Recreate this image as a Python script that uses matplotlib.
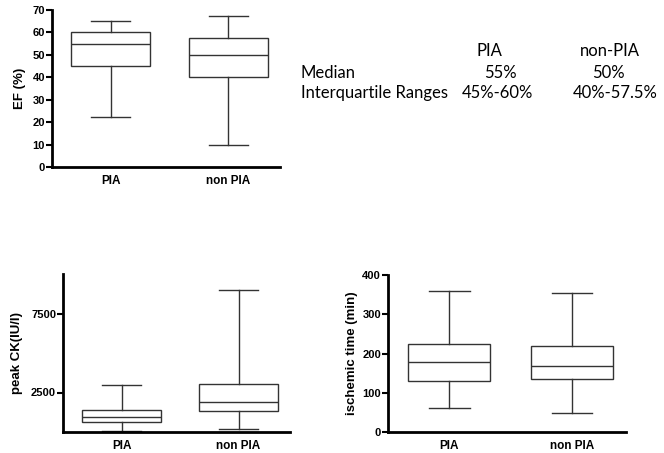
import matplotlib
matplotlib.use("Agg")
import matplotlib.pyplot as plt

groups = ["PIA", "non PIA"]

# EF (%) box stats: low whisker, Q1, median, Q3, high whisker
ef_low = [22.5, 10]
ef_q1 = [45, 40]
ef_med = [55, 50]
ef_q3 = [60, 57.5]
ef_high = [65, 67.5]

# peak CK (IU/l)
ck_low = [50, 165]
ck_q1 = [610, 1310]
ck_med = [930, 1900]
ck_q3 = [1415, 3055]
ck_high = [2970, 8970]

# ischemic time (min)
it_low = [62, 48]
it_q1 = [130, 134]
it_med = [179, 168]
it_q3 = [223, 219]
it_high = [360, 355]

table_cols = ["PIA", "non-PIA"]
table_rows = ["Median", "Interquartile Ranges"]
table_vals = [["55%", "50%"], ["45%-60%", "40%-57.5%"]]

W, H = 664, 453
fig = plt.figure(figsize=(W / 100, H / 100), dpi=100)
fig.patch.set_facecolor("white")

line_col = "#333333"
tick_font = dict(family="Liberation Sans", weight="bold", size=8)
xtick_font = dict(family="Liberation Sans", weight="bold", size=8.5)


def make_stats(low, q1, med, q3, high):
    out = []
    for i in range(len(groups)):
        out.append(dict(whislo=low[i], q1=q1[i], med=med[i], q3=q3[i],
                        whishi=high[i], fliers=[], label=groups[i]))
    return out


def draw_panel(rect, stats, ylim, yticks, ylabel, labelpad):
    ax = fig.add_axes(rect)
    ax.bxp(stats, positions=[1, 2], widths=0.67, showfliers=False,
           patch_artist=True,
           boxprops=dict(facecolor="white", edgecolor=line_col, linewidth=1.0),
           medianprops=dict(color=line_col, linewidth=1.0),
           whiskerprops=dict(color=line_col, linewidth=1.0),
           capprops=dict(color=line_col, linewidth=1.0),
           capwidths=0.33)
    ax.set_xlim(0.5, 2.44)
    ax.set_ylim(*ylim)
    ax.set_yticks(yticks)
    ax.spines["top"].set_visible(False)
    ax.spines["right"].set_visible(False)
    for s in ("left", "bottom"):
        ax.spines[s].set_linewidth(2.0)
        ax.spines[s].set_color("black")
    ax.tick_params(axis="y", direction="out", length=4, width=1.5, pad=1)
    ax.tick_params(axis="x", length=0, pad=6)
    for lab in ax.get_yticklabels():
        lab.set_fontproperties(tick_font)
    for lab in ax.get_xticklabels():
        lab.set_fontproperties(xtick_font)
    ax.set_ylabel(ylabel, fontdict=dict(family="Liberation Sans",
                                         weight="bold", size=9.5),
                  labelpad=labelpad)
    return ax


draw_panel([52 / W, 1 - 167 / H, 228 / W, 157 / H],
           make_stats(ef_low, ef_q1, ef_med, ef_q3, ef_high),
           (0, 70), range(0, 71, 10), "EF (%)", 5)

draw_panel([63 / W, 1 - 432 / H, 227 / W, 158 / H],
           make_stats(ck_low, ck_q1, ck_med, ck_q3, ck_high),
           (0, 10000), [2500, 7500], "peak CK(IU/l)", 6)

draw_panel([388 / W, 1 - 432 / H, 238 / W, 157 / H],
           make_stats(it_low, it_q1, it_med, it_q3, it_high),
           (0, 400), range(0, 401, 100), "ischemic time (min)", 3)

# summary table as text
tfont = dict(family="Lato", size=12, color="black")
col_x = [489 / W, 610 / W]
fig.text(col_x[0], 1 - 51 / H, table_cols[0], ha="center", va="center", **tfont)
fig.text(col_x[1], 1 - 51 / H, table_cols[1], ha="center", va="center", **tfont)
row_y = [1 - 73 / H, 1 - 93 / H]
val_x = [[500 / W, 608 / W], [497 / W, 615 / W]]
for r in range(2):
    fig.text(301 / W, row_y[r], table_rows[r], ha="left", va="center", **tfont)
    for c in range(2):
        fig.text(val_x[r][c], row_y[r], table_vals[r][c], ha="center",
                 va="center", **tfont)

fig.savefig("out.png", dpi=100, facecolor="white")
